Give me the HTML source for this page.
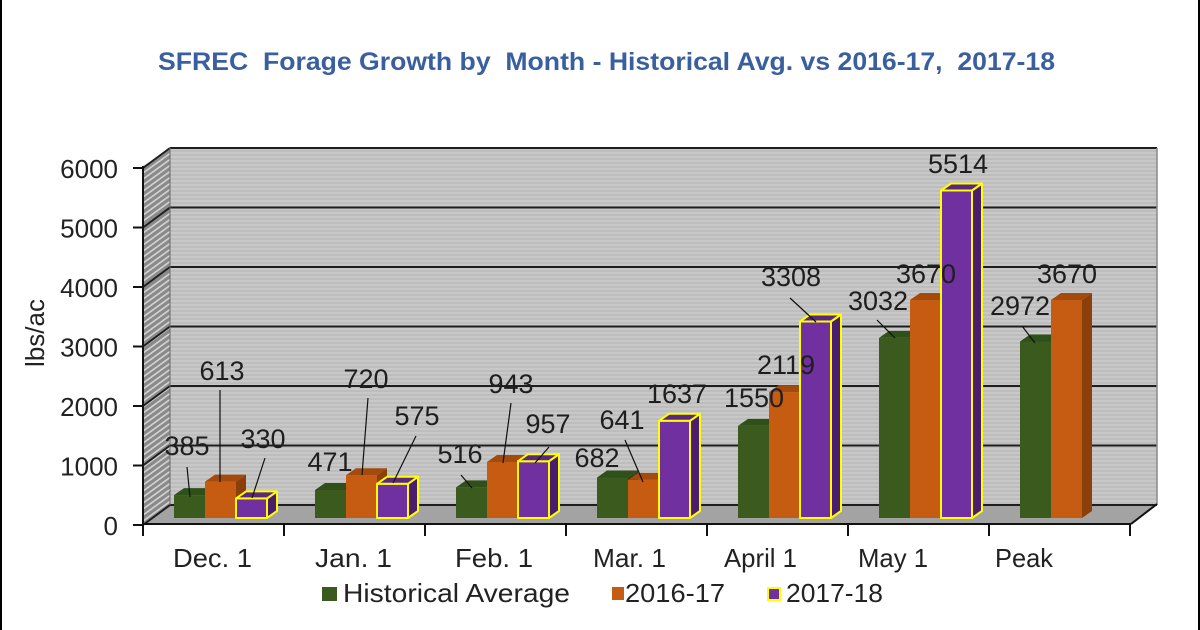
<!DOCTYPE html>
<html>
<head>
<meta charset="utf-8">
<style>
  html,body{margin:0;padding:0;background:#fff;}
  body{width:1200px;height:630px;overflow:hidden;}
  svg{display:block;}
  text{font-family:"Liberation Sans", Arial, sans-serif;}
</style>
</head>
<body>
<svg width="1200" height="630" viewBox="0 0 1200 630" xmlns="http://www.w3.org/2000/svg">
  <defs>
    <pattern id="wallStripes" patternUnits="userSpaceOnUse" width="8" height="4">
      <rect x="0" y="0" width="8" height="4" fill="#bdbdbd"/>
      <rect x="0" y="0" width="8" height="2" fill="#c8c8c8"/>
    </pattern>
    <pattern id="hatch" patternUnits="userSpaceOnUse" width="10" height="6" patternTransform="skewY(-36)">
      <rect x="0" y="0" width="10" height="6" fill="#8a8a8a"/>
      <rect x="0" y="0" width="10" height="2" fill="#d2d2d2"/>
    </pattern>
  </defs>

  <rect x="0" y="0" width="1200" height="630" fill="#ffffff"/>
  <rect x="0" y="0" width="2" height="630" fill="#000"/>
  <rect x="1198" y="0" width="2" height="630" fill="#000"/>

  <!-- Title -->
  <text x="158" y="70" font-size="25" font-weight="bold" fill="#3a5f9f" textLength="897" lengthAdjust="spacingAndGlyphs" style="white-space:pre">SFREC  Forage Growth by  Month - Historical Avg. vs 2016-17,  2017-18</text>

  <!-- Back wall -->
  <rect x="170" y="148" width="987" height="357" fill="url(#wallStripes)"/>
  <!-- Left wall -->
  <polygon points="143,166 170,148 170,505 143,525" fill="url(#hatch)"/>
  <!-- Floor -->
  <polygon points="143,524 1131,524 1157,504 170,504" fill="#a3a3a3"/>

  <!-- Gridlines back wall -->
  <g stroke="#1e1e1e" stroke-width="2">
    <line x1="170" y1="148" x2="1157" y2="148"/>
    <line x1="170" y1="207.5" x2="1157" y2="207.5"/>
    <line x1="170" y1="267" x2="1157" y2="267"/>
    <line x1="170" y1="326.5" x2="1157" y2="326.5"/>
    <line x1="170" y1="386" x2="1157" y2="386"/>
    <line x1="170" y1="445.5" x2="1157" y2="445.5"/>
    <line x1="170" y1="505" x2="1157" y2="505"/>
    <!-- left wall gridlines -->
    <line x1="143" y1="168" x2="170" y2="148"/>
    <line x1="143" y1="227.5" x2="170" y2="207.5"/>
    <line x1="143" y1="287" x2="170" y2="267"/>
    <line x1="143" y1="346.5" x2="170" y2="326.5"/>
    <line x1="143" y1="406" x2="170" y2="386"/>
    <line x1="143" y1="465.5" x2="170" y2="445.5"/>
    <line x1="143" y1="525" x2="170" y2="505"/>
  </g>
  <line x1="1157" y1="148" x2="1157" y2="505" stroke="#8a8a8a" stroke-width="1.5"/>
  <line x1="170" y1="148" x2="170" y2="505" stroke="#6a6a6a" stroke-width="1"/>

  <!-- Bars -->
  <!-- Dec -->
  <g>
    <rect x="174" y="495.1" width="31" height="22.9" fill="#3a5a1e"/>
    <polygon points="205,518 205,495.1 215,488.1 215,511" fill="#2a4214"/>
    <polygon points="174,495.1 205,495.1 215,488.1 184,488.1" fill="#30501a"/>
    <rect x="205" y="481.6" width="31" height="36.4" fill="#c65b12"/>
    <polygon points="236,518 236,481.6 246,474.6 246,511" fill="#8b3f0a"/>
    <polygon points="205,481.6 236,481.6 246,474.6 215,474.6" fill="#a34b0d"/>
    <g stroke="#ffff00" stroke-width="2" stroke-linejoin="round">
      <rect x="236" y="498.4" width="31" height="19.6" fill="#7030a0"/>
      <polygon points="267,518 267,498.4 277,491.4 277,511" fill="#4a1d6e"/>
      <polygon points="236,498.4 267,498.4 277,491.4 246,491.4" fill="#5b2785"/>
    </g>
  </g>
  <!-- Jan -->
  <g>
    <rect x="315" y="490" width="31" height="28" fill="#3a5a1e"/>
    <polygon points="346,518 346,490 356,483 356,511" fill="#2a4214"/>
    <polygon points="315,490 346,490 356,483 325,483" fill="#30501a"/>
    <rect x="346" y="475.2" width="31" height="42.8" fill="#c65b12"/>
    <polygon points="377,518 377,475.2 387,468.2 387,511" fill="#8b3f0a"/>
    <polygon points="346,475.2 377,475.2 387,468.2 356,468.2" fill="#a34b0d"/>
    <g stroke="#ffff00" stroke-width="2" stroke-linejoin="round">
      <rect x="377" y="483.8" width="31" height="34.2" fill="#7030a0"/>
      <polygon points="408,518 408,483.8 418,476.8 418,511" fill="#4a1d6e"/>
      <polygon points="377,483.8 408,483.8 418,476.8 387,476.8" fill="#5b2785"/>
    </g>
  </g>
  <!-- Feb -->
  <g>
    <rect x="456" y="487.4" width="31" height="30.6" fill="#3a5a1e"/>
    <polygon points="487,518 487,487.4 497,480.4 497,511" fill="#2a4214"/>
    <polygon points="456,487.4 487,487.4 497,480.4 466,480.4" fill="#30501a"/>
    <rect x="487" y="462" width="31" height="56" fill="#c65b12"/>
    <polygon points="518,518 518,462 528,455 528,511" fill="#8b3f0a"/>
    <polygon points="487,462 518,462 528,455 497,455" fill="#a34b0d"/>
    <g stroke="#ffff00" stroke-width="2" stroke-linejoin="round">
      <rect x="518" y="461.2" width="31" height="56.8" fill="#7030a0"/>
      <polygon points="549,518 549,461.2 559,454.2 559,511" fill="#4a1d6e"/>
      <polygon points="518,461.2 549,461.2 559,454.2 528,454.2" fill="#5b2785"/>
    </g>
  </g>
  <!-- Mar -->
  <g>
    <rect x="597" y="477.5" width="31" height="40.5" fill="#3a5a1e"/>
    <polygon points="628,518 628,477.5 638,470.5 638,511" fill="#2a4214"/>
    <polygon points="597,477.5 628,477.5 638,470.5 607,470.5" fill="#30501a"/>
    <rect x="628" y="479.9" width="31" height="38.1" fill="#c65b12"/>
    <polygon points="659,518 659,479.9 669,472.9 669,511" fill="#8b3f0a"/>
    <polygon points="628,479.9 659,479.9 669,472.9 638,472.9" fill="#a34b0d"/>
    <g stroke="#ffff00" stroke-width="2" stroke-linejoin="round">
      <rect x="659" y="420.8" width="31" height="97.2" fill="#7030a0"/>
      <polygon points="690,518 690,420.8 700,413.8 700,511" fill="#4a1d6e"/>
      <polygon points="659,420.8 690,420.8 700,413.8 669,413.8" fill="#5b2785"/>
    </g>
  </g>
  <!-- April -->
  <g>
    <rect x="738" y="425.9" width="31" height="92.1" fill="#3a5a1e"/>
    <polygon points="769,518 769,425.9 779,418.9 779,511" fill="#2a4214"/>
    <polygon points="738,425.9 769,425.9 779,418.9 748,418.9" fill="#30501a"/>
    <rect x="769" y="392.1" width="31" height="125.9" fill="#c65b12"/>
    <polygon points="800,518 800,392.1 810,385.1 810,511" fill="#8b3f0a"/>
    <polygon points="769,392.1 800,392.1 810,385.1 779,385.1" fill="#a34b0d"/>
    <g stroke="#ffff00" stroke-width="2" stroke-linejoin="round">
      <rect x="800" y="321.5" width="31" height="196.5" fill="#7030a0"/>
      <polygon points="831,518 831,321.5 841,314.5 841,511" fill="#4a1d6e"/>
      <polygon points="800,321.5 831,321.5 841,314.5 810,314.5" fill="#5b2785"/>
    </g>
  </g>
  <!-- May -->
  <g>
    <rect x="879" y="337.9" width="31" height="180.1" fill="#3a5a1e"/>
    <polygon points="910,518 910,337.9 920,330.9 920,511" fill="#2a4214"/>
    <polygon points="879,337.9 910,337.9 920,330.9 889,330.9" fill="#30501a"/>
    <rect x="910" y="300" width="31" height="218" fill="#c65b12"/>
    <polygon points="941,518 941,300 951,293 951,511" fill="#8b3f0a"/>
    <polygon points="910,300 941,300 951,293 920,293" fill="#a34b0d"/>
    <g stroke="#ffff00" stroke-width="2" stroke-linejoin="round">
      <rect x="941" y="190.5" width="31" height="327.5" fill="#7030a0"/>
      <polygon points="972,518 972,190.5 982,183.5 982,511" fill="#4a1d6e"/>
      <polygon points="941,190.5 972,190.5 982,183.5 951,183.5" fill="#5b2785"/>
    </g>
  </g>
  <!-- Peak -->
  <g>
    <rect x="1020" y="341.5" width="31" height="176.5" fill="#3a5a1e"/>
    <polygon points="1051,518 1051,341.5 1061,334.5 1061,511" fill="#2a4214"/>
    <polygon points="1020,341.5 1051,341.5 1061,334.5 1030,334.5" fill="#30501a"/>
    <rect x="1051" y="300" width="31" height="218" fill="#c65b12"/>
    <polygon points="1082,518 1082,300 1092,293 1092,511" fill="#8b3f0a"/>
    <polygon points="1051,300 1082,300 1092,293 1061,293" fill="#a34b0d"/>
  </g>

  <!-- Floor front edges -->
  <line x1="143" y1="524" x2="1131" y2="524" stroke="#111" stroke-width="2"/>
  <line x1="1131" y1="524" x2="1157" y2="504" stroke="#111" stroke-width="2"/>

  <!-- Y axis -->
  <g stroke="#111" stroke-width="2">
    <line x1="143" y1="166" x2="143" y2="525"/>
    <line x1="133" y1="168" x2="143" y2="168"/>
    <line x1="133" y1="227.5" x2="143" y2="227.5"/>
    <line x1="133" y1="287" x2="143" y2="287"/>
    <line x1="133" y1="346.5" x2="143" y2="346.5"/>
    <line x1="133" y1="406" x2="143" y2="406"/>
    <line x1="133" y1="465.5" x2="143" y2="465.5"/>
    <line x1="133" y1="525" x2="143" y2="525"/>
  </g>
  <!-- X axis ticks -->
  <g stroke="#111" stroke-width="2">
    <line x1="143" y1="524" x2="143" y2="536"/>
    <line x1="284" y1="524" x2="284" y2="536"/>
    <line x1="425" y1="524" x2="425" y2="536"/>
    <line x1="566" y1="524" x2="566" y2="536"/>
    <line x1="707" y1="524" x2="707" y2="536"/>
    <line x1="848" y1="524" x2="848" y2="536"/>
    <line x1="989" y1="524" x2="989" y2="536"/>
    <line x1="1130" y1="524" x2="1130" y2="536"/>
  </g>

  <!-- Y tick labels -->
  <g font-size="26" fill="#222" text-anchor="end">
    <text x="118" y="178">6000</text>
    <text x="118" y="237.5">5000</text>
    <text x="118" y="297">4000</text>
    <text x="118" y="356.5">3000</text>
    <text x="118" y="416">2000</text>
    <text x="118" y="475.5">1000</text>
    <text x="118" y="535">0</text>
  </g>
  <text transform="translate(44,333) rotate(-90)" font-size="26" fill="#222" text-anchor="middle">lbs/ac</text>

  <!-- X labels -->
  <g font-size="26" fill="#222" lengthAdjust="spacingAndGlyphs">
    <text x="173" y="567" textLength="79" lengthAdjust="spacingAndGlyphs">Dec. 1</text>
    <text x="315" y="567" textLength="77" lengthAdjust="spacingAndGlyphs">Jan. 1</text>
    <text x="455" y="567" textLength="78" lengthAdjust="spacingAndGlyphs">Feb. 1</text>
    <text x="593" y="567" textLength="73" lengthAdjust="spacingAndGlyphs">Mar. 1</text>
    <text x="724" y="567" textLength="73" lengthAdjust="spacingAndGlyphs">April 1</text>
    <text x="858" y="567" textLength="70" lengthAdjust="spacingAndGlyphs">May 1</text>
    <text x="995" y="567" textLength="58" lengthAdjust="spacingAndGlyphs">Peak</text>
  </g>

  <!-- Leader lines -->
  <g stroke="#111" stroke-width="1.2">
    <line x1="187" y1="467" x2="190" y2="497"/>
    <line x1="220" y1="390" x2="220" y2="482"/>
    <line x1="265" y1="458" x2="252" y2="498"/>
    <line x1="368" y1="398" x2="362" y2="475"/>
    <line x1="416" y1="436" x2="393" y2="483"/>
    <line x1="461" y1="475" x2="472" y2="488"/>
    <line x1="511" y1="403" x2="503" y2="463"/>
    <line x1="549" y1="447" x2="535" y2="463"/>
    <line x1="625" y1="440" x2="643" y2="482"/>
    <line x1="790" y1="298" x2="816" y2="322"/>
    <line x1="877" y1="320" x2="895" y2="338"/>
    <line x1="1022" y1="326" x2="1035" y2="343"/>
  </g>

  <!-- Data labels -->
  <g font-size="27" fill="#1e1e1e" text-anchor="middle">
    <text x="187" y="455">385</text>
    <text x="222" y="380">613</text>
    <text x="263" y="448">330</text>
    <text x="330" y="471">471</text>
    <text x="366" y="388">720</text>
    <text x="417" y="425">575</text>
    <text x="460" y="463">516</text>
    <text x="511" y="393">943</text>
    <text x="548" y="433">957</text>
    <text x="597" y="467">682</text>
    <text x="622" y="429">641</text>
    <text x="677" y="403">1637</text>
    <text x="754" y="407">1550</text>
    <text x="786" y="374">2119</text>
    <text x="791" y="286">3308</text>
    <text x="878" y="310">3032</text>
    <text x="926" y="283">3670</text>
    <text x="958" y="173">5514</text>
    <text x="1020" y="315">2972</text>
    <text x="1067" y="283">3670</text>
  </g>

  <!-- Legend -->
  <rect x="322" y="587" width="15" height="14" fill="#3a5a1e"/>
  <text x="343" y="602" font-size="26" fill="#222" textLength="227" lengthAdjust="spacingAndGlyphs">Historical Average</text>
  <rect x="612" y="587" width="12" height="13" fill="#c65b12"/>
  <text x="625" y="602" font-size="26" fill="#222" textLength="100" lengthAdjust="spacingAndGlyphs">2016-17</text>
  <rect x="768" y="588" width="12" height="12" fill="#7030a0" stroke="#ffff00" stroke-width="2"/>
  <text x="786" y="602" font-size="26" fill="#222" textLength="97" lengthAdjust="spacingAndGlyphs">2017-18</text>
</svg>
</body>
</html>
